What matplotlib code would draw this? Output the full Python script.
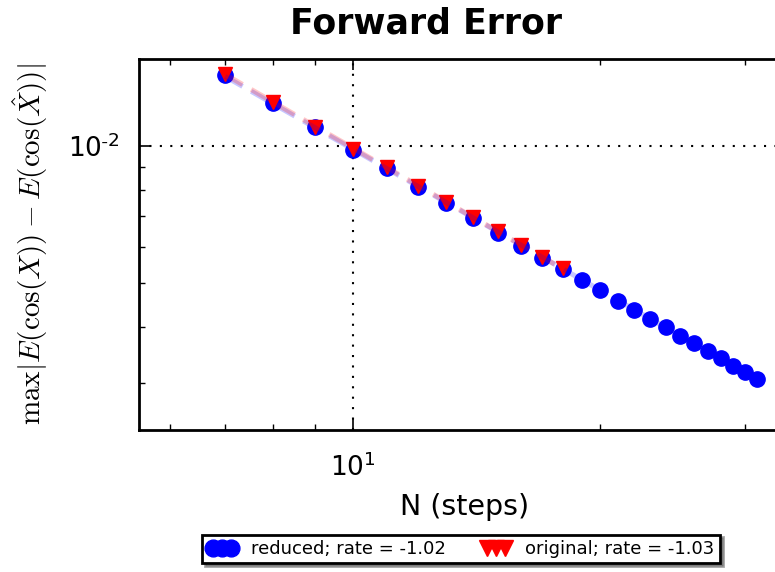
import numpy as np
import matplotlib
matplotlib.use('Agg')
import matplotlib.pyplot as plt
from matplotlib.ticker import FixedLocator, FixedFormatter, NullFormatter

plt.rcParams['mathtext.fontset'] = 'cm'
plt.rcParams['font.family'] = ['DejaVu Sans']

# ---- data ----
n_reduced = [7, 8, 9, 10, 11, 12, 13, 14, 15, 16, 17, 18, 19, 20, 21, 22, 23, 24,
             25, 26, 27, 28, 29, 30, 31]
err_reduced = [0.01434, 0.01245, 0.01099, 0.00980, 0.00893, 0.00814, 0.00748,
               0.00693, 0.00644, 0.00602, 0.00566, 0.00535, 0.00507, 0.00482,
               0.00456, 0.00435, 0.00415, 0.00399, 0.00382, 0.00368, 0.00354,
               0.00341, 0.00328, 0.00317, 0.00307]
n_original = [7, 8, 9, 10, 11, 12, 13, 14, 15, 16, 17, 18]
err_original = [0.01442, 0.01252, 0.01103, 0.00986, 0.00897, 0.00818, 0.00752,
                0.00697, 0.00648, 0.00606, 0.00570, 0.00538]
rate_reduced = -1.02
rate_original = -1.03

x_major_ticks = [10]
x_major_labels = ['$\\mathdefault{10^{1}}$']
y_major_ticks = [0.01]
y_major_labels = ['$\\mathdefault{10^{\\text{-}2}}$']

W, H = 775, 572
fig = plt.figure(figsize=(W / 100, H / 100), dpi=100)
left, right, top, bottom = 139 / W, 790 / W, 1 - 59 / H, 1 - 430 / H
ax = fig.add_axes([left, bottom, right - left, top - bottom])
ax.set_xscale('log')
ax.set_yscale('log')

ax.plot(n_reduced, err_reduced, 'o', color='blue', mec='blue', ms=11,
        label='reduced; rate = %.2f' % rate_reduced, zorder=3)
ax.plot(n_original, err_original, 'v', color='red', mec='red', ms=10.5,
        label='original; rate = %.2f' % rate_original, zorder=3)

for n, e, c in [(n_reduced, err_reduced, 'blue'), (n_original, err_original, 'red')]:
    p = np.polyfit(np.log(n), np.log(e), 1)
    ax.plot(n, np.exp(np.polyval(p, np.log(n))), '--', color=c, alpha=0.22,
            lw=3.6, dashes=(4, 2), zorder=4)

ax.set_xlim(5.5, 34)
ax.set_ylim(0.002368, 0.01554)

ax.xaxis.set_major_locator(FixedLocator(x_major_ticks))
ax.xaxis.set_major_formatter(FixedFormatter(x_major_labels))
ax.xaxis.set_minor_formatter(NullFormatter())
ax.yaxis.set_major_locator(FixedLocator(y_major_ticks))
ax.yaxis.set_major_formatter(FixedFormatter(y_major_labels))
ax.yaxis.set_minor_formatter(NullFormatter())

ax.tick_params(which='both', direction='in', top=True, right=True)
ax.tick_params(which='major', length=8, width=1.2, labelsize=19)
ax.tick_params(axis='y', which='major', pad=14)
ax.tick_params(axis='x', which='major', pad=17)
ax.tick_params(which='minor', length=4, width=1)
for s in ax.spines.values():
    s.set_linewidth(2)

ax.grid(True, which='major', linestyle=(0, (1, 4)), color='black', linewidth=1.5)

ax.set_xlabel('N (steps)', fontsize=20.5, labelpad=8)
ax.set_ylabel('$\\max|E(\\cos(X)) - E(\\cos(\\hat{X}))|$', fontsize=21, labelpad=13)

fig.text(426 / W, 1 - 24 / H, 'Forward Error', fontsize=25, fontweight='bold',
         ha='center', va='center')

leg = fig.legend(loc='center', bbox_to_anchor=(461 / W, 1 - 549 / H), ncol=2,
                 numpoints=3, shadow=True, fancybox=False, fontsize=13,
                 handlelength=1.6, columnspacing=2.0, handletextpad=0.8,
                 borderpad=0.3, framealpha=1, markerscale=1.1)
leg.get_frame().set_edgecolor('black')
leg.get_frame().set_linewidth(2)

fig.savefig('out.png', dpi=100)
